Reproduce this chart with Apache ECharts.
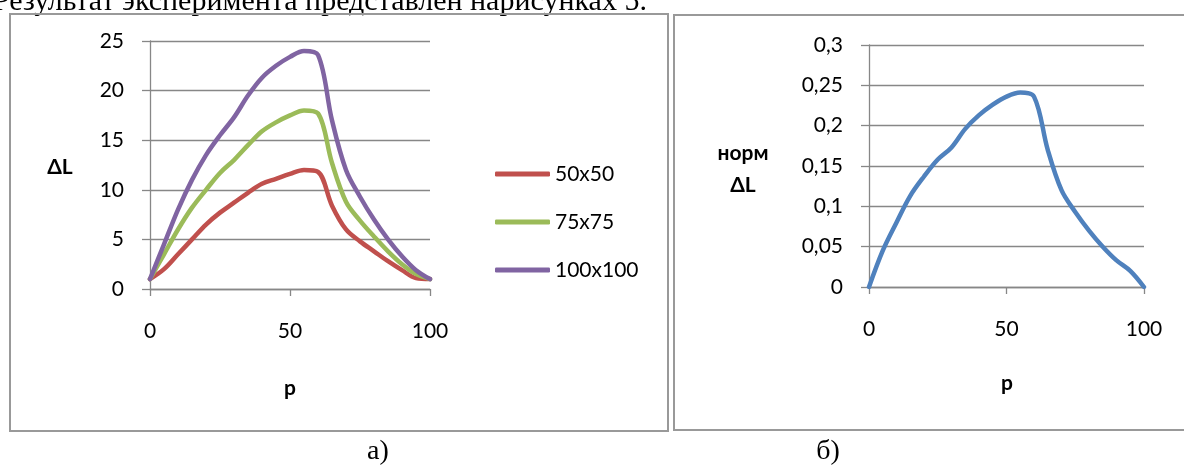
<!DOCTYPE html>
<html>
<head>
<meta charset="utf-8">
<script src="https://cdn.jsdelivr.net/npm/echarts@6/dist/echarts.min.js"></script>
<style>
  html, body { margin: 0; padding: 0; background: #fff; }
  #main { width: 1184px; height: 465px; }
</style>
</head>
<body>
<div id="main"></div>
<script>
// values
var pValues = [0, 5, 10, 15, 20, 25, 30, 35, 40, 45, 50, 55, 60, 65, 70, 75, 80, 85, 90, 95, 100];
var dl50  = [1, 2, 3.5, 5, 6.5, 7.7, 8.7, 9.7, 10.6, 11.1, 11.6, 12, 11.8, 8.4, 6, 4.8, 3.8, 2.8, 1.9, 1.1, 1];
var dl75  = [1, 3.5, 6, 8.2, 10, 11.7, 13, 14.5, 15.9, 16.8, 17.5, 18, 17.7, 12.7, 8.8, 6.9, 5.3, 3.8, 2.5, 1.5, 1];
var dl100 = [1, 4.5, 8, 11, 13.5, 15.5, 17.3, 19.5, 21.3, 22.5, 23.4, 24, 23.6, 17, 12, 9.3, 7, 5, 3.3, 1.9, 1];
var normDL = [0, 0.045, 0.08, 0.113, 0.137, 0.158, 0.173, 0.196, 0.213, 0.226, 0.236, 0.241, 0.236, 0.17, 0.12, 0.093, 0.07, 0.05, 0.033, 0.02, 0];
var seriesNames = ['50x50', '75x75', '100x100'];

var gridColor = '#878787';
var font = 'Lato, "Open Sans", sans-serif';
var serif = '"Liberation Serif", "Times New Roman", serif';

function pairs(ys) {
  var out = [];
  for (var i = 0; i < pValues.length; i++) out.push([pValues[i], ys[i]]);
  return out;
}

function lineSeries(name, ys, color, idx) {
  return {
    name: name,
    type: 'line',
    xAxisIndex: idx,
    yAxisIndex: idx,
    data: pairs(ys),
    smooth: 0.35,
    showSymbol: false,
    lineStyle: { width: 4.5, color: color, cap: 'round', join: 'round' },
    itemStyle: { color: color }
  };
}

function xAx(idx) {
  return {
    type: 'value', gridIndex: idx, min: 0, max: 100, interval: 50,
    axisLine: { lineStyle: { color: gridColor, width: 1.3 } },
    axisTick: { show: true, inside: false, length: 7, lineStyle: { color: gridColor, width: 1.3 } },
    axisLabel: { margin: 32, color: '#000', fontSize: 21, fontFamily: font },
    splitLine: { show: false }
  };
}

function yAx(idx, max, step, fmt) {
  return {
    type: 'value', gridIndex: idx, min: 0, max: max, interval: step,
    axisLine: { show: true, lineStyle: { color: gridColor, width: 1.3 } },
    axisTick: { show: true, inside: false, length: 8, lineStyle: { color: gridColor, width: 1.3 } },
    axisLabel: { margin: 26, color: '#000', fontSize: 21, fontFamily: font, formatter: fmt },
    splitLine: { show: true, lineStyle: { color: gridColor, width: 1.3 } }
  };
}

function label(text, x, y, size, bold, family) {
  return {
    type: 'text', x: x, y: y, silent: true,
    style: { text: text, fontSize: size, fontWeight: bold ? 'bold' : 'normal', fontFamily: family,
             fill: '#000', align: 'center', verticalAlign: 'middle' }
  };
}

var chart = echarts.init(document.getElementById('main'));

chart.setOption({
  animation: false,
  backgroundColor: '#fff',
  grid: [
    { left: 150, top: 41, width: 280, height: 248 },
    { left: 869, top: 45, width: 275, height: 242 }
  ],
  xAxis: [xAx(0), xAx(1)],
  yAxis: [
    yAx(0, 25, 5, function (v) { return String(v); }),
    yAx(1, 0.3, 0.05, function (v) { return String(+v.toFixed(2)).replace('.', ','); })
  ],
  legend: {
    data: seriesNames,
    orient: 'vertical',
    left: 490,
    top: 158,
    itemWidth: 55,
    itemHeight: 5,
    itemGap: 26,
    icon: 'roundRect',
    textStyle: { color: '#000', fontSize: 21, fontFamily: font, lineHeight: 22 }
  },
  series: [
    lineSeries(seriesNames[0], dl50, '#C0504D', 0),
    lineSeries(seriesNames[1], dl75, '#9BBB59', 0),
    lineSeries(seriesNames[2], dl100, '#8064A2', 0),
    lineSeries('норм ΔL', normDL, '#4F81BD', 1)
  ],
  graphic: [
    { type: 'text', left: -7, top: -13, silent: true,
      style: { text: 'Результат эксперимента представлен нарисунках 5.', fontSize: 30, fontFamily: serif, fill: '#000' } },
    { type: 'rect', shape: { x: 10, y: 14, width: 658, height: 417 },
      style: { fill: 'none', stroke: '#999', lineWidth: 2 } },
    { type: 'rect', shape: { x: 674, y: 15, width: 600, height: 415 },
      style: { fill: 'none', stroke: '#999', lineWidth: 2 } },
    label('ΔL', 60, 167, 21, true, font),
    label('p', 290, 388, 21, true, font),
    label('норм', 743, 153, 21, true, font),
    label('ΔL', 743, 185, 21, true, font),
    label('p', 1007, 383, 21, true, font),
    label('а)', 378, 452, 28, false, serif),
    label('б)', 828, 452, 28, false, serif)
  ]
});
</script>
</body>
</html>
